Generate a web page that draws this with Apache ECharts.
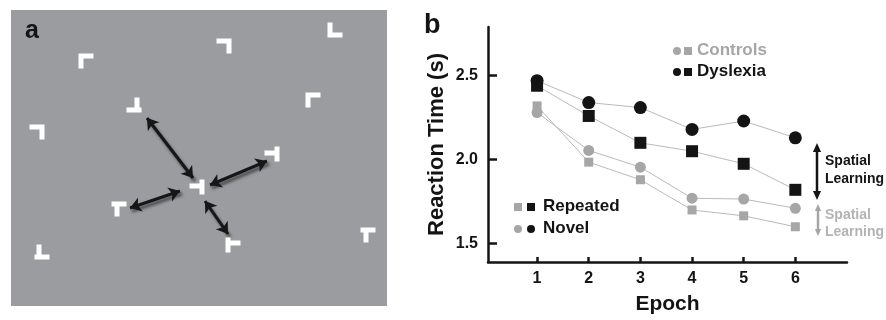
<!DOCTYPE html>
<html>
<head>
<meta charset="utf-8">
<script src="https://cdn.jsdelivr.net/npm/echarts@6/dist/echarts.min.js"></script>
<style>
html, body { margin: 0; padding: 0; background: #fff; }
#chart { width: 886px; height: 320px; }
</style>
</head>
<body>
<div id="chart"></div>
<script>
// panel b: reaction time per epoch
const epochs = [1, 2, 3, 4, 5, 6];
const dysNovel = [2.47, 2.34, 2.31, 2.18, 2.23, 2.13];
const dysRepeated = [2.44, 2.26, 2.10, 2.05, 1.975, 1.82];
const ctlNovel = [2.28, 2.055, 1.955, 1.77, 1.765, 1.71];
const ctlRepeated = [2.32, 1.985, 1.88, 1.70, 1.665, 1.60];
const yTicks = [1.5, 2.0, 2.5];

// panel a: search display (page pixel coords)
const stimX = [86, 224, 335, 134, 313, 37, 272, 197, 119, 233, 368, 42];
const stimY = [61, 46, 30, 105, 100, 132, 154, 187, 209, 245, 235, 252];
const stimShape = ["ul", "ur", "ll", "invTr", "ul", "ur", "tackR", "tackR", "Tl", "tackL", "Tl", "invTl"];
const arrowFrom = [[147, 118], [210, 185], [130, 208], [205, 201]];
const arrowTo = [[193, 178], [267, 161], [180, 191], [228, 234]];

const SHAPES = {
    ul: "path://M0 0H15V5H5V15H0Z",
    ur: "path://M0 0H15V15H10V5H0Z",
    ll: "path://M0 0H5V10H15V15H0Z",
    invTr: "path://M0 10H15V15H0Z M8 0H13V10H8Z",
    invTl: "path://M0 10H15V15H0Z M2 0H7V10H2Z",
    Tl: "path://M0 0H15V5H0Z M3 5H8V15H3Z",
    tackR: "path://M0 4H10V9H0Z M10 0H15V15H10Z",
    tackL: "path://M0 0H5V15H0Z M5 3H15V8H5Z"
};

const FONT = "'Liberation Sans', Arial, sans-serif";
const BLACK = "#141414";
const GRAY = "#a6a6a6";

var myChart = echarts.init(document.getElementById("chart"));

function seriesB(name, data, color, symbol, size) {
    return {
        type: "line",
        name: name,
        xAxisIndex: 0,
        yAxisIndex: 0,
        data: epochs.map((e, i) => [e, data[i]]),
        symbol: symbol,
        symbolSize: size,
        showAllSymbol: true,
        lineStyle: { color: "#b9b9b9", width: 1 },
        itemStyle: { color: color },
        z: 3
    };
}

function legendText(x, y, text, color, size) {
    return {
        type: "text",
        left: x,
        top: y - size / 2 - 1,
        style: { text: text, fill: color, font: "bold " + size + "px " + FONT }
    };
}

function vArrow(x, y1, y2, color, head) {
    return [
        { type: "line", shape: { x1: x, y1: y1 + head, x2: x, y2: y2 - head }, style: { stroke: color, lineWidth: 2.5 } },
        { type: "polygon", shape: { points: [[x, y1], [x - head * 0.45, y1 + head], [x + head * 0.45, y1 + head]] }, style: { fill: color } },
        { type: "polygon", shape: { points: [[x, y2], [x - head * 0.45, y2 - head], [x + head * 0.45, y2 - head]] }, style: { fill: color } }
    ];
}

myChart.setOption({
    animation: false,
    grid: [
        { left: 488, right: 39, top: 27, bottom: 53 },
        { left: 11, top: 10, width: 376, height: 296, show: true, backgroundColor: "#9b9ca0", borderWidth: 0 }
    ],
    xAxis: [
        {
            type: "value",
            gridIndex: 0,
            min: 0.05,
            max: 7,
            axisLine: { onZero: false, lineStyle: { color: BLACK, width: 2.5 } },
            axisTick: { inside: true, length: 5, customValues: epochs, lineStyle: { color: BLACK, width: 2.5 } },
            axisLabel: { customValues: epochs, margin: 9, color: BLACK, fontSize: 16, fontWeight: "bold", fontFamily: FONT },
            splitLine: { show: false },
            name: "Epoch",
            nameLocation: "middle",
            nameGap: 32,
            nameTextStyle: { color: BLACK, fontSize: 21, fontWeight: "bold", fontFamily: FONT }
        },
        { type: "value", gridIndex: 1, min: 11, max: 387, show: false }
    ],
    yAxis: [
        {
            type: "value",
            gridIndex: 0,
            min: 1.39,
            max: 2.79,
            axisLine: { show: true, onZero: false, lineStyle: { color: BLACK, width: 2.5 } },
            axisTick: { inside: true, length: 9, customValues: yTicks, lineStyle: { color: BLACK, width: 2.5 } },
            axisLabel: {
                customValues: yTicks, margin: 10, color: BLACK, fontSize: 16, fontWeight: "bold", fontFamily: FONT,
                formatter: v => v.toFixed(1)
            },
            splitLine: { show: false },
            name: "Reaction Time (s)",
            nameLocation: "middle",
            nameRotate: 90,
            nameGap: 40,
            nameTextStyle: { color: BLACK, fontSize: 22, fontWeight: "bold", fontFamily: FONT }
        },
        { type: "value", gridIndex: 1, min: 10, max: 306, inverse: true, show: false }
    ],
    series: [
        seriesB("Controls Repeated", ctlRepeated, GRAY, "rect", 9),
        seriesB("Controls Novel", ctlNovel, GRAY, "circle", 11),
        seriesB("Dyslexia Repeated", dysRepeated, BLACK, "rect", 12),
        seriesB("Dyslexia Novel", dysNovel, BLACK, "circle", 13),
        {
            type: "scatter",
            xAxisIndex: 1,
            yAxisIndex: 1,
            data: stimX.map((x, i) => ({ value: [x, stimY[i]], symbol: SHAPES[stimShape[i]] })),
            symbolSize: [15, 15],
            itemStyle: { color: "#ffffff", opacity: 1 },
            silent: true
        },
        {
            type: "lines",
            coordinateSystem: "cartesian2d",
            xAxisIndex: 1,
            yAxisIndex: 1,
            data: arrowFrom.map((p, i) => ({ coords: [p, arrowTo[i]] })),
            symbol: ["arrow", "arrow"],
            symbolSize: 11,
            lineStyle: {
                color: "#161616", width: 3, opacity: 1,
                shadowBlur: 3, shadowColor: "rgba(0,0,0,0.55)", shadowOffsetX: 2, shadowOffsetY: 3
            },
            silent: true
        }
    ],
    graphic: [
        { type: "text", left: 25, top: 19, style: { text: "a", fill: BLACK, font: "bold 25px " + FONT } },
        { type: "text", left: 424, top: 12, style: { text: "b", fill: BLACK, font: "bold 27px " + FONT } },
        // legend: group
        { type: "circle", shape: { cx: 677, cy: 51, r: 4 }, style: { fill: GRAY } },
        { type: "rect", shape: { x: 684, y: 47, width: 8, height: 8 }, style: { fill: GRAY } },
        legendText(697, 51, "Controls", GRAY, 17),
        { type: "circle", shape: { cx: 677, cy: 72, r: 4 }, style: { fill: BLACK } },
        { type: "rect", shape: { x: 684, y: 68, width: 8, height: 8 }, style: { fill: BLACK } },
        legendText(697, 72, "Dyslexia", BLACK, 17),
        // legend: condition
        { type: "rect", shape: { x: 514, y: 203, width: 8, height: 8 }, style: { fill: GRAY } },
        { type: "rect", shape: { x: 527, y: 203, width: 8, height: 8 }, style: { fill: BLACK } },
        legendText(543, 207, "Repeated", BLACK, 17),
        { type: "circle", shape: { cx: 518, cy: 229, r: 4 }, style: { fill: GRAY } },
        { type: "circle", shape: { cx: 531, cy: 229, r: 4 }, style: { fill: BLACK } },
        legendText(543, 229, "Novel", BLACK, 17),
        // spatial learning annotations
        ...vArrow(817, 143, 200, BLACK, 9),
        legendText(825, 162, "Spatial", BLACK, 14),
        legendText(825, 180, "Learning", BLACK, 14),
        ...vArrow(818, 204, 236, GRAY, 7),
        legendText(825, 216, "Spatial", "#b3b3b3", 14),
        legendText(825, 233, "Learning", "#b3b3b3", 14)
    ]
});
</script>
</body>
</html>
